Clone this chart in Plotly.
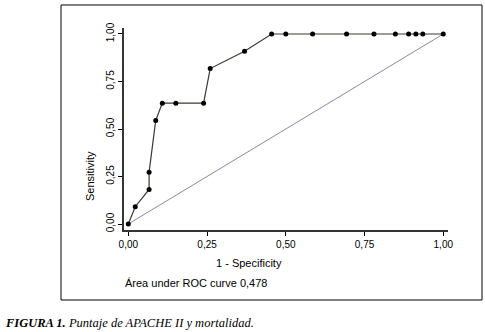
import plotly.graph_objects as go

# ROC curve data (1 - specificity, sensitivity)
fpr = [0.0, 0.022, 0.066, 0.066, 0.087, 0.108, 0.151, 0.239, 0.26, 0.369,
       0.455, 0.5, 0.585, 0.693, 0.78, 0.848, 0.89, 0.913, 0.935, 1.0]
tpr = [0.0, 0.091, 0.182, 0.273, 0.545, 0.636, 0.636, 0.636, 0.818, 0.909,
       1.0, 1.0, 1.0, 1.0, 1.0, 1.0, 1.0, 1.0, 1.0, 1.0]
diag_x = [0.0, 1.0]
diag_y = [0.0, 1.0]
tick_vals = [0.0, 0.25, 0.5, 0.75, 1.0]
tick_text = ["0,00", "0,25", "0,50", "0,75", "1,00"]
x_title = "1 - Specificity"
y_title = "Sensitivity"
auc_text = "Área under ROC curve 0,478"
caption = "<b><i>FIGURA 1.</i></b><i> Puntaje de APACHE II y mortalidad.</i>"

fig = go.Figure()
fig.add_trace(go.Scatter(x=diag_x, y=diag_y, mode="lines",
                         line=dict(color="#8888aa", width=1), hoverinfo="skip"))
fig.add_trace(go.Scatter(x=fpr, y=tpr, mode="lines+markers",
                         line=dict(color="#3a3a30", width=1.2),
                         marker=dict(color="black", size=5)))

W, H = 485, 332
L, R, T, B = 124, 37, 28, 102
pw, ph = W - L - R, H - T - B

def px(xp):
    return (xp - L) / pw

def py(yp):
    return (H - B - yp) / ph

fig.update_layout(
    width=W, height=H,
    margin=dict(l=L, r=R, t=T, b=B),
    paper_bgcolor="white", plot_bgcolor="white",
    showlegend=False,
    font=dict(family="Liberation Sans, Arial, sans-serif", size=11, color="black"),
    xaxis=dict(range=[-0.0137, 1.015], tickvals=tick_vals, ticktext=tick_text,
               showgrid=False, zeroline=False, showline=True, linecolor="#333333",
               linewidth=1.5, ticks="outside", ticklen=4, tickcolor="black",
               tickfont=dict(size=10)),
    yaxis=dict(range=[-0.0315, 1.0315], tickvals=tick_vals, ticktext=tick_text,
               showgrid=False, zeroline=False, showline=True, linecolor="#333333",
               linewidth=1.5, ticks="outside", ticklen=4, tickcolor="black",
               tickangle=-90, tickfont=dict(size=10)),
    shapes=[dict(type="rect", xref="paper", yref="paper",
                 x0=px(61), x1=px(482), y0=py(300), y1=py(5),
                 line=dict(color="black", width=1))],
    annotations=[
        dict(text=x_title, xref="paper", yref="paper", x=px(249), y=py(263),
             xanchor="center", yanchor="middle", showarrow=False,
             font=dict(size=11)),
        dict(text=y_title, xref="paper", yref="paper", x=px(90), y=py(176),
             xanchor="center", yanchor="middle", showarrow=False, textangle=-90,
             font=dict(size=11)),
        dict(text=auc_text, xref="paper", yref="paper", x=px(123), y=py(283),
             xanchor="left", yanchor="middle", showarrow=False,
             font=dict(size=11)),
        dict(text=caption, xref="paper", yref="paper", x=px(3), y=py(323),
             xanchor="left", yanchor="middle", showarrow=False,
             font=dict(family="Liberation Serif, serif", size=12.5, color="black")),
    ],
)

fig.write_html("out.html", config={"displayModeBar": False},
               post_script="document.body.style.margin='0';")
